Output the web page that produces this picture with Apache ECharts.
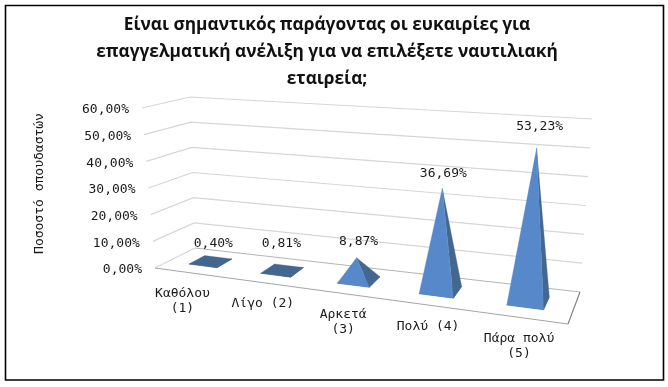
<!DOCTYPE html>
<html><head><meta charset="utf-8">
<style>html,body{margin:0;padding:0;background:#fff}#c{width:668px;height:387px}</style>
<script src="https://cdn.jsdelivr.net/npm/echarts@6/dist/echarts.min.js"></script>
</head><body><div id="c"></div>
<script>
const categories = ['Καθόλου\n(1)', 'Λίγο (2)', 'Αρκετά\n(3)', 'Πολύ (4)', 'Πάρα πολύ\n(5)'];
const percentages = [0.40, 0.81, 8.87, 36.69, 53.23];
const tickValues = [0, 10, 20, 30, 40, 50, 60];
const titleText = 'Είναι σημαντικός παράγοντας οι ευκαιρίες για\nεπαγγελματική ανέλιξη για να επιλέξετε ναυτιλιακή\nεταιρεία;';
const axisName = 'Ποσοστό σπουδαστών';
const pct = v => v.toFixed(2).replace('.', ',') + '%';

// Perspective box: screen corners of the plot box ([f]ront/[b]ack, [l]eft/[r]ight, [0]floor/[1]top)
const box = {
  fl0:[155,268], fl1:[142,108], bl0:[195,248], bl1:[190,97],
  fr0:[568,324], fr1:[583,142], br0:[580,292], br1:[592,119]
};
const K = 1.183;            // foreshortening along the category direction
const DEPTH_F = 0.33, DEPTH_B = 0.74, APEX_DEPTH = 0.45, BAND = 0.4;
const mix = (a,b,t) => [a[0]+(b[0]-a[0])*t, a[1]+(b[1]-a[1])*t];
function project(u, s, w) {
  const t = u/(u+(1-u)*K);
  const f0 = mix(box.fl0,box.fr0,t), f1 = mix(box.fl1,box.fr1,t);
  const b0 = mix(box.bl0,box.br0,t), b1 = mix(box.bl1,box.br1,t);
  return mix(mix(f0,b0,w), mix(f1,b1,w), s);
}
// Goes from data to screen through the grid's own scales, then into the perspective box
function toBox(api, params, x, v, dx, w) {
  const c = api.coord([x, v]), g = params.coordSys;
  const band = api.size([1, 0])[0];
  return project((c[0] + (dx||0)*band - g.x)/g.width, (g.y + g.height - c[1])/g.height, w);
}
const FONT = '"DejaVu Sans Mono", monospace';
const TXT = '#1a1a1a', BRIGHT = '#5788C9', DARK = '#44678F', WALL = '#D6D6D6';
const text = (x,y,t,align) => ({type:'text', style:{x, y, text:t, fill:TXT, font:'13px '+FONT, lineHeight:15.5, align:align||'center', verticalAlign:'middle'}});
const line = (pts,color) => ({type:'polyline', shape:{points:pts}, style:{stroke:color, lineWidth:1.2, fill:null}});
const labelNudge = [[6,-19],[2,-27],[2,-16.5],[1,-15],[3,-21.5]];
const catNudge = [-8,-2,-1,-1,-1];

const option = {
  animation:false,
  backgroundColor:'#fff',
  title:{text:titleText, left:322, top:7, textAlign:'center',
    textStyle:{fontFamily:'"Open Sans"', fontWeight:'bold', fontSize:17.3, lineHeight:27, color:'#111'}},
  grid:{left:142, top:60, width:450, height:247},
  xAxis:{type:'category', data:categories, axisLine:{show:false}, axisTick:{show:false}, axisLabel:{show:false}, splitLine:{show:false}},
  yAxis:{type:'value', min:0, max:60, interval:10, name:axisName, nameLocation:'middle', nameRotate:90, nameGap:96,
    nameTextStyle:{fontFamily:FONT, fontSize:13, color:TXT},
    axisLine:{show:false}, axisTick:{show:false}, axisLabel:{show:false}, splitLine:{show:false}},
  graphic:[{type:'rect', silent:true, z:-1, shape:{x:5.5,y:5.5,width:658,height:374.5}, style:{fill:'#fff', stroke:'#000', lineWidth:1.6}}],
  series:[
    {type:'custom', silent:true, clip:false, z:1, coordinateSystem:'cartesian2d', encode:{x:0,y:1},
     data:tickValues.map(v=>[0,v]),
     renderItem(params, api){
       const v = api.value(1);
       const a = toBox(api,params,0,v,-0.5,0), b = toBox(api,params,0,v,-0.5,1), c = toBox(api,params,4,v,0.5,1);
       const kids = [text(a[0]-13, a[1]+2, pct(v), 'right')];
       if (v>0) kids.unshift(line([a,b,c],WALL));
       return {type:'group', children:kids};
     }},
    {type:'custom', silent:true, clip:false, z:2, coordinateSystem:'cartesian2d', encode:{x:0,y:1},
     data:[[0,0]],
     renderItem(params, api){
       const a = toBox(api,params,0,0,-0.5,0), b = toBox(api,params,4,0,0.5,0),
             c = toBox(api,params,4,0,0.5,1), d = toBox(api,params,0,0,-0.5,1);
       return {type:'group', children:[line([a,d],WALL), line([d,c],'#B5B5B5'), line([a,b],'#A6A6A6'), line([b,c],'#7F7F7F')]};
     }},
    {type:'custom', silent:true, clip:false, z:3, coordinateSystem:'cartesian2d', encode:{x:0,y:1},
     data:percentages.map((v,i)=>[i,v]),
     renderItem(params, api){
       const i = api.value(0), v = api.value(1);
       const h = BAND/2;
       const fl = toBox(api,params,i,0,-h,DEPTH_F), fr = toBox(api,params,i,0,h,DEPTH_F),
             br = toBox(api,params,i,0,h,DEPTH_B), bl = toBox(api,params,i,0,-h,DEPTH_B),
             ap = toBox(api,params,i,v,0,APEX_DEPTH), foot = toBox(api,params,i,0,0,0);
       const poly = (pts,fill) => ({type:'polygon', shape:{points:pts}, style:{fill, stroke:fill, lineWidth:0.3}});
       const flat = v < 2;
       const lines = categories[i].split('\n').length;
       return {type:'group', children:[
         poly([fl,fr,br,bl],DARK),
         poly([fr,br,ap],DARK),
         poly([fl,fr,ap], flat?DARK:BRIGHT),
         text(ap[0]+labelNudge[i][0], ap[1]+labelNudge[i][1], pct(v)),
         text(foot[0]+catNudge[i], foot[1]+21+(lines-1)*7.5, categories[i])
       ]};
     }}
  ]
};
echarts.init(document.getElementById('c'),null,{renderer:'canvas'}).setOption(option);
</script></body></html>
